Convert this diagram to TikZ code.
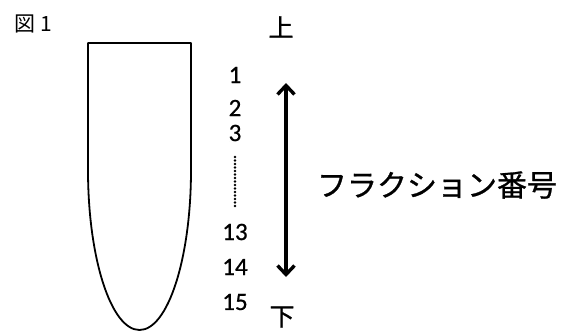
\documentclass[tikz,border=0pt]{standalone}
\usepackage{fontspec}
\setmainfont{Carlito}[FakeBold=0.7]
\newfontfamily\cjk{Noto Sans CJK JP}[FakeBold=0.9]
\newfontfamily\cjkthin{Noto Sans CJK JP}
\usetikzlibrary{arrows.meta}
\begin{document}
\begin{tikzpicture}[x=1pt,y=-1pt,
  num/.style={font=\fontsize{25}{25}\selectfont, inner sep=0pt},
  jp/.style={font=\cjk\fontsize{25}{25}\selectfont, inner sep=0pt},
  tube/.style={line width=1.8pt, line join=round}]
\useasboundingbox (0,0) rectangle (561,332);
% tube
\draw[tube] (88,43) -- (191,43) -- (191,170)
  .. controls (191,258.4) and (167.9,330) .. (139.5,330)
  .. controls (111.1,330) and (88,258.4) .. (88,170) -- cycle;
\node[font=\cjkthin\fontsize{21}{21}\selectfont, inner sep=0pt] (fig) at (33,24) {図 1};
\node[jp] (top) at (281,27) {上};
\node[jp] (bot) at (282,317) {下};
\node[num] (n1) at (235,75) {1};
\node[num] (n2) at (235,108) {2};
\node[num] (n3) at (235,133) {3};
\coordinate (d1) at (235,157);
\coordinate (d2) at (235,208);
\draw[line width=2.6pt, dash pattern=on 0pt off 3.5pt, line cap=round] (d1) -- (d2);
\node[num] (n13) at (235,232) {13};
\node[num] (n14) at (235,267) {14};
\node[num] (n15) at (235,302) {15};
\coordinate (a1) at (286,83);
\coordinate (a2) at (286,277);
\draw[line width=3.4pt, {Straight Barb[length=9pt,width=17pt]}-{Straight Barb[length=9pt,width=17pt]}] (a1) -- (a2);
\node[font=\cjk\fontsize{30}{30}\selectfont, inner sep=0pt] (lab) at (437,185) {フラクション番号};
\end{tikzpicture}
\end{document}
